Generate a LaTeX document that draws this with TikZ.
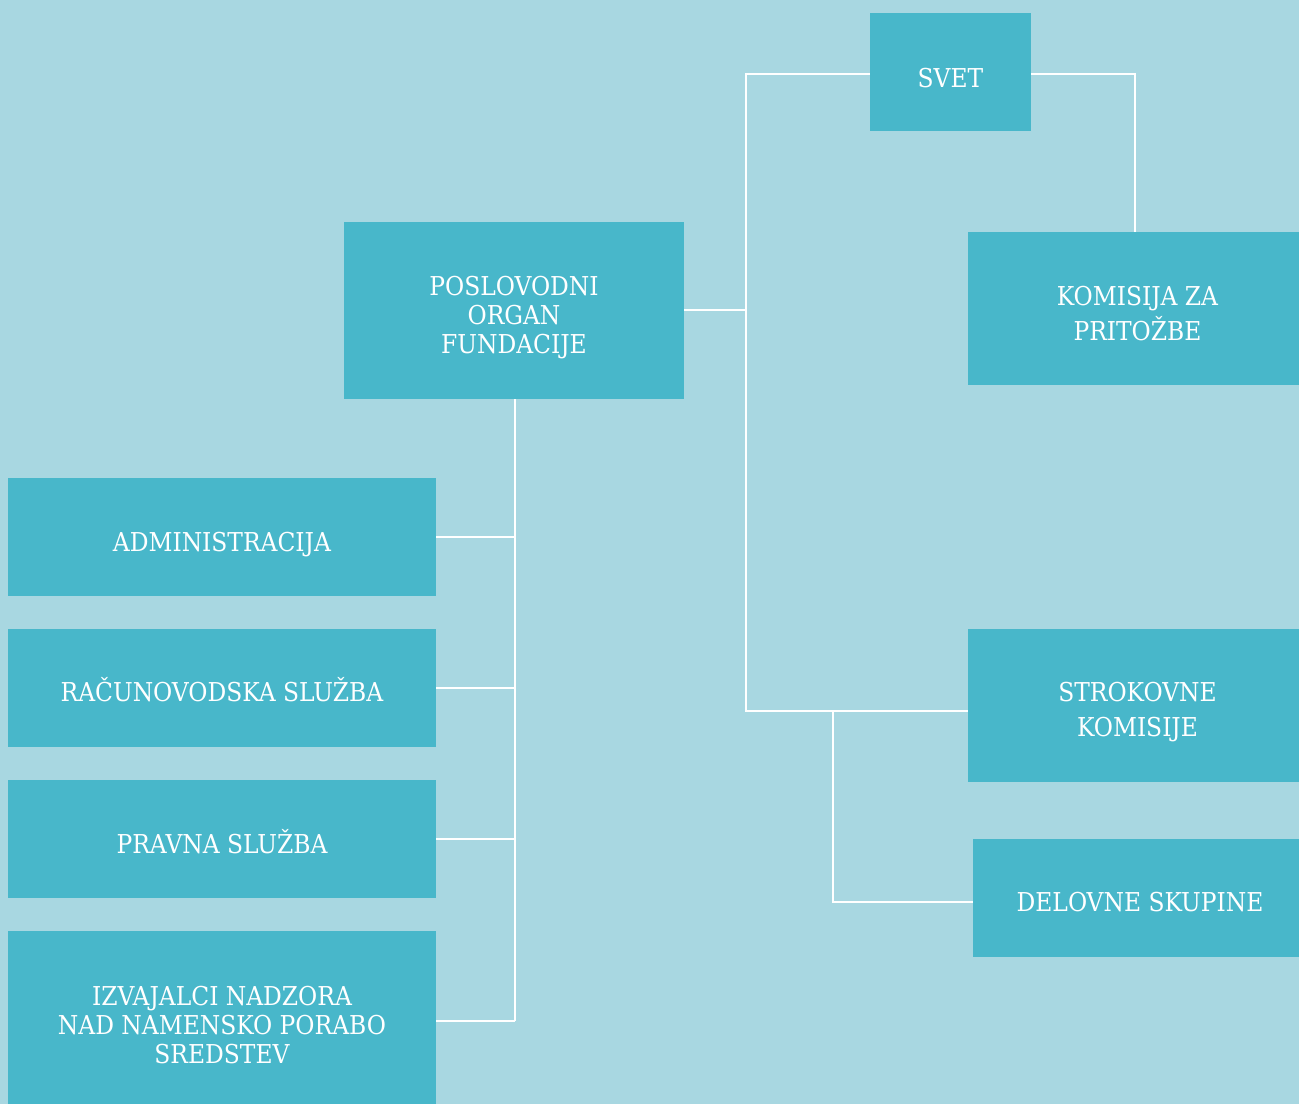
\documentclass[tikz,border=0pt]{standalone}
\usepackage{fontspec}
\setmainfont{DejaVu Serif Condensed}
\definecolor{bgc}{RGB}{168,215,225}
\definecolor{boxc}{RGB}{72,183,202}
\begin{document}
\begin{tikzpicture}[x=1pt,y=-1pt,
  orgbox/.style={fill=boxc,draw=none,inner sep=0pt},
  lbl/.style={text=white,align=center,inner sep=0pt,yshift=-7.5pt,
    font=\fontsize{26}{29}\selectfont},
  lblw/.style={text=white,align=center,inner sep=0pt,yshift=-5pt,xshift=4pt,
    font=\fontsize{26}{35}\selectfont},
  link/.style={draw=white,line width=2.4pt}]
\fill[bgc] (0,0) rectangle (1299,1104);
\useasboundingbox (0,0) rectangle (1299,1104);
% boxes
\node[orgbox,minimum width=161pt,minimum height=118pt,label={[lbl,yshift=1.5pt]center:SVET}] (svet) at (950.5,72) {};
\node[orgbox,minimum width=340pt,minimum height=177pt,label={[lbl]center:POSLOVODNI\\ORGAN\\FUNDACIJE}] (pos) at (514,310.5) {};
\node[orgbox,minimum width=331pt,minimum height=153pt,label={[lblw]center:KOMISIJA ZA\\PRITOŽBE}] (kom) at (1133.5,308.5) {};
\node[orgbox,minimum width=331pt,minimum height=153pt,label={[lblw,yshift=-2pt]center:STROKOVNE\\KOMISIJE}] (strok) at (1133.5,705.5) {};
\node[orgbox,minimum width=326pt,minimum height=118pt,label={[lblw,yshift=1pt]center:DELOVNE SKUPINE}] (del) at (1136,898) {};
\node[orgbox,minimum width=428pt,minimum height=118pt,label={[lbl]center:ADMINISTRACIJA}] (adm) at (222,537) {};
\node[orgbox,minimum width=428pt,minimum height=118pt,label={[lbl,yshift=5.5pt]center:RAČUNOVODSKA SLUŽBA}] (rac) at (222,688) {};
\node[orgbox,minimum width=428pt,minimum height=118pt,label={[lbl,yshift=5pt]center:PRAVNA SLUŽBA}] (prav) at (222,839) {};
\node[orgbox,minimum width=428pt,minimum height=173pt,label={[lbl]center:IZVAJALCI NADZORA\\NAD NAMENSKO PORABO\\SREDSTEV}] (izv) at (222,1017.5) {};
% connector coordinates
\coordinate (vtop) at (746,74);
\coordinate (vmid) at (746,310);
\coordinate (vbot) at (746,711);
\coordinate (rtop) at (1135,74);
\coordinate (dtop) at (833,711);
\coordinate (dbot) at (833,902);
\coordinate (ptop) at (515,399);
\coordinate (b1) at (515,537);
\coordinate (b2) at (515,688);
\coordinate (b3) at (515,839);
\coordinate (b4) at (515,1021);
% connectors
\draw[link] (svet.west |- vtop) -- (vtop) -- (vbot) -- (strok.west |- vbot);
\draw[link] (pos.east |- vmid) -- (vmid);
\draw[link] (svet.east |- rtop) -- (rtop) -- (rtop |- kom.north);
\draw[link] (dtop) -- (dbot) -- (del.west |- dbot);
\draw[link] (ptop) -- (b4);
\draw[link] (adm.east) -- (b1);
\draw[link] (rac.east) -- (b2);
\draw[link] (prav.east) -- (b3);
\draw[link] (izv.east |- b4) -- (b4);
\end{tikzpicture}
\end{document}
